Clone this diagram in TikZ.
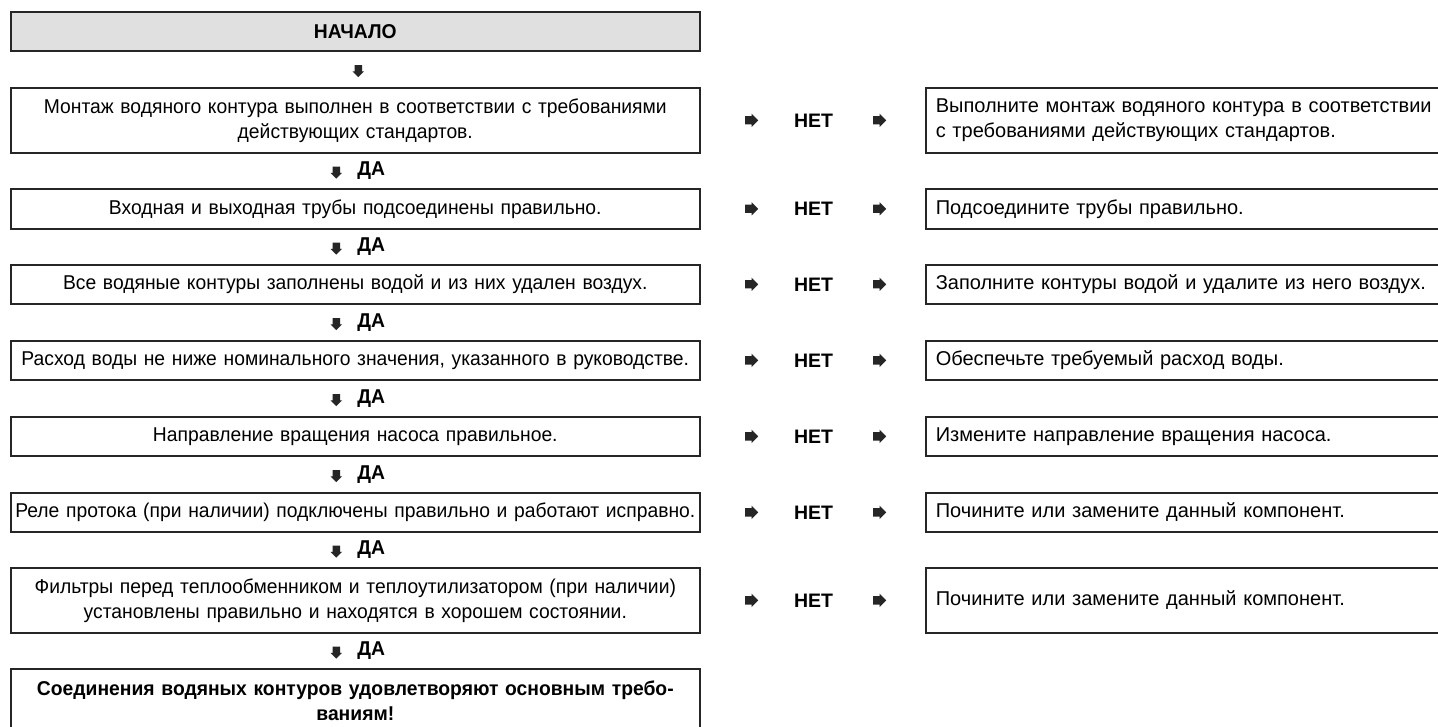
\documentclass[tikz,border=0pt]{standalone}
\usepackage{fontspec}
\setmainfont{Liberation Sans}
\newfontfamily\narrowfont[FakeStretch=0.965]{Liberation Sans}
\usetikzlibrary{positioning,calc,shapes.arrows}

\begin{document}
\begin{tikzpicture}[x=1pt, y=-1pt,
  check/.style={draw=black!85, line width=1.6pt, anchor=north west,
    text width=688pt, inner xsep=0.5pt, inner ysep=0pt, align=center,
    font=\narrowfont\fontsize{20}{25}\selectfont},
  fix/.style={draw=black!85, line width=1.6pt, anchor=north west,
    text width=500pt, inner xsep=10pt, inner ysep=0pt, align=left,
    font=\fontsize{20}{25}\selectfont},
  rtarr/.style={single arrow, fill=black!85, draw=none,
    minimum height=13pt, inner xsep=0pt, inner ysep=4pt,
    single arrow head extend=2.5pt},
  dnarr/.style={rtarr, rotate=-90, minimum height=12pt, inner ysep=3.5pt,
    single arrow head extend=2pt},
  yes/.style={font=\narrowfont\bfseries\fontsize{20}{22}\selectfont},
  no/.style={font=\bfseries\fontsize{19.5}{22}\selectfont}]
\fill[white] (0,0) rectangle (1438,727);
\useasboundingbox (0,0) rectangle (1438,727);

% left column: checks
\node[check, fill=black!12, minimum height=39pt, font=\narrowfont\bfseries\fontsize{20}{25}\selectfont]
  (start) at (10,11) {НАЧАЛО};
\node[check, minimum height=65pt] (c1) at (10,87)
  {Монтаж водяного контура выполнен в соответствии с требованиями\\действующих стандартов.};
\node[check, minimum height=40pt] (c2) at (10,188)
  {Входная и выходная трубы подсоединены правильно.};
\node[check, minimum height=39pt] (c3) at (10,264)
  {Все водяные контуры заполнены водой и из них удален воздух.};
\node[check, minimum height=39pt] (c4) at (10,340)
  {Расход воды не ниже номинального значения, указанного в руководстве.};
\node[check, minimum height=39pt] (c5) at (10,416)
  {Направление вращения насоса правильное.};
\node[check, minimum height=39pt] (c6) at (10,492)
  {Реле протока (при наличии) подключены правильно и работают исправно.};
\node[check, minimum height=65pt] (c7) at (10,567)
  {Фильтры перед теплообменником и теплоутилизатором (при наличии)\\установлены правильно и находятся в хорошем состоянии.};
\node[check, minimum height=64pt, font=\narrowfont\bfseries\fontsize{20}{25}\selectfont]
  (done) at (10,668) {Соединения водяных контуров удовлетворяют основным требо-\\ваниям!};

% right column: what to do
\node[fix, minimum height=65pt] (f1) at (925,87)
  {Выполните монтаж водяного контура в соответствии\\с требованиями действующих стандартов.};
\node[fix, minimum height=40pt] (f2) at (925,188) {Подсоедините трубы правильно.};
\node[fix, minimum height=39pt] (f3) at (925,264) {Заполните контуры водой и удалите из него воздух.};
\node[fix, minimum height=39pt] (f4) at (925,340) {Обеспечьте требуемый расход воды.};
\node[fix, minimum height=39pt] (f5) at (925,416) {Измените направление вращения насоса.};
\node[fix, minimum height=39pt] (f6) at (925,492) {Почините или замените данный компонент.};
\node[fix, minimum height=65pt] (f7) at (925,567) {Почините или замените данный компонент.};

% down arrows
\node[dnarr] (d0) at ($(start.south)!0.5!(c1.north)+(3,0)$) {};
\foreach \a/\b in {c1/c2, c2/c3, c3/c4, c4/c5, c5/c6, c6/c7, c7/done}{
  \node[dnarr] (d-\b) at ($(\a.south)!0.5!(\b.north)+(-19,0)$) {};
  \node[yes] at ($(\a.south)!0.5!(\b.north)+(16,0)$) {ДА};
}

% side arrows
\foreach \a/\b in {c1/f1, c2/f2, c3/f3, c4/f4, c5/f5, c6/f6, c7/f7}{
  \node[rtarr] (l-\a) at ([xshift=49pt]\a.east) {};
  \node[no] (n-\a) at ([xshift=113pt]\a.east) {НЕТ};
  \node[rtarr] (r-\a) at ([xshift=177pt]\a.east) {};
}
\end{tikzpicture}
\end{document}
